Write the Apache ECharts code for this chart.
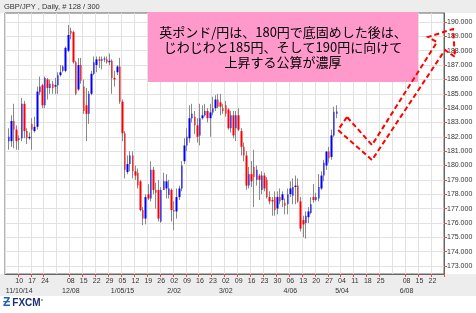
<!DOCTYPE html>
<html><head><meta charset="utf-8">
<script src="https://cdn.jsdelivr.net/npm/echarts@6/dist/echarts.min.js"></script>
<style>html,body{margin:0;padding:0;background:#fff}#c{width:476px;height:313px}</style>
</head><body><div id="c"></div><script>
// weekly (Monday) tick labels, Nov 3 2014 .. Jun 22 2015
const weekDays = ['03','10','17','24','01','08','15','22','29','05','12','19','26','02','09','16','23','02','09','16','23','30','06','13','20','27','04','11','18','25','01','08','15','22'];
const monthLabels = {1:'11/10/14',5:'12/08',9:'1/05/15',13:'2/02',17:'3/02',22:'4/06',26:'5/04',31:'6/08'};
const hiddenWeeks = [0,4,30];
const firstBar = 1;
const opens  = [181.7,181.7,183.1,182.5,181.8,181.9,184.3,182.4,181.9,182.9,182.4,182.7,185.1,185.6,184.2,186.0,185.4,185.7,185.5,185.6,186.3,186.6,186.6,188.0,189.4,189.3,187.2,185.3,187.0,185.5,184.2,183.6,185.0,186.4,187.0,187.4,187.3,187.4,187.4,187.2,187.3,186.1,186.5,186.9,184.45,182.25,179.55,180.1,180.7,179.6,179.5,178.9,176.9,176.3,178.0,177.7,179.7,178.3,178.3,176.1,178.3,178.4,177.95,178.3,176.9,176.8,177.8,178.4,180.3,181.4,181.9,183.3,183.4,182.8,182.1,183.3,183.5,183.8,183.3,183.7,184.0,184.6,184.4,184.0,184.2,183.9,182.6,183.5,182.6,183.5,182.4,181.3,180.7,178.6,179.4,179.9,179.0,179.3,178.3,179.3,179.0,177.8,177.6,177.8,177.0,177.8,177.6,177.4,177.3,178.0,177.9,178.5,178.6,177.5,176.2,176.0,176.4,176.7,177.8,177.6,177.7,178.4,179.3,180.0,180.97,180.6,182.1,183.6];
const closes = [182.0,183.1,182.5,181.7,181.9,184.3,182.4,181.9,182.0,182.5,182.7,185.15,185.5,184.2,186.1,185.4,185.7,185.4,185.6,186.3,186.5,186.9,188.2,189.1,189.2,187.2,185.0,187.0,185.9,183.8,183.6,185.0,186.4,187.2,187.4,187.3,187.4,187.45,187.2,187.3,186.1,186.0,186.9,184.45,182.25,179.7,180.1,180.7,179.6,179.3,178.6,176.9,176.3,177.8,177.7,179.7,178.3,178.1,176.3,178.3,178.9,178.9,178.4,176.9,176.8,177.8,178.4,180.0,181.4,182.0,183.3,183.6,182.8,182.0,183.3,183.5,183.8,183.3,183.7,184.0,184.6,184.1,184.1,183.8,183.6,182.6,183.5,182.1,183.5,182.5,181.3,180.7,178.6,179.4,178.9,179.2,179.7,179.0,179.3,178.4,177.8,177.5,177.5,176.9,177.8,177.5,178.0,177.2,178.0,178.4,178.5,178.6,177.5,175.6,175.9,176.5,176.8,177.3,177.6,177.8,178.5,179.3,180.2,180.97,180.5,182.1,183.75,183.765];
const lows   = [181.1,181.3,181.2,181.1,181.1,181.7,181.9,181.5,181.8,181.1,182.3,182.5,184.9,184.0,184.0,184.6,185.0,185.0,185.0,185.0,186.2,186.5,186.5,187.9,188.8,187.1,184.9,185.2,185.7,183.6,181.7,182.9,184.9,186.3,186.5,186.8,186.7,187.2,187.1,187.0,185.0,185.5,186.3,184.3,181.7,179.1,179.4,179.6,179.1,179.0,178.4,176.8,175.85,175.9,177.6,177.5,178.0,177.0,176.1,176.0,178.3,177.7,177.7,176.1,175.5,176.3,177.6,178.2,180.1,181.0,181.6,183.0,182.2,181.6,181.4,183.2,183.4,183.0,182.0,183.5,183.8,184.0,183.5,183.6,183.4,182.5,182.3,181.9,181.7,182.4,180.7,180.3,178.3,178.4,178.5,177.1,178.6,177.6,178.0,178.2,177.7,177.3,176.5,176.5,176.6,177.3,177.1,176.6,176.6,177.8,177.3,177.3,177.4,175.4,175.0,174.9,176.0,176.6,177.4,177.5,177.5,178.3,178.9,179.7,180.2,180.4,182.0,183.3];
const highs  = [182.6,183.5,184.3,182.8,182.1,184.7,184.5,182.6,182.3,183.3,183.4,185.5,186.2,185.7,186.2,186.1,186.0,185.9,186.1,186.5,187.0,187.0,188.3,189.8,189.6,189.4,187.3,187.5,187.5,186.0,185.4,185.2,186.6,187.6,187.6,187.6,187.6,187.6,187.6,187.8,187.4,186.6,187.0,187.5,184.6,182.4,180.7,181.0,181.0,180.0,179.8,179.0,177.1,178.0,178.7,180.3,179.9,178.8,179.0,178.5,179.5,179.4,179.0,178.4,177.5,178.4,178.6,180.3,181.9,182.6,184.2,184.3,183.8,183.3,184.3,184.2,184.3,184.0,184.3,184.8,184.9,185.0,185.0,184.3,184.5,184.0,183.8,183.8,183.8,184.0,182.6,181.6,181.0,179.9,180.3,181.1,180.0,179.4,179.6,179.5,179.2,178.2,177.8,178.2,178.2,178.4,178.2,177.7,178.4,178.9,179.1,179.3,179.1,177.8,176.5,176.8,177.1,177.8,178.7,178.1,179.4,179.6,180.4,181.0,181.3,182.5,184.1,184.2];
const lastPrice = 183.765;
const priceTicks = [173,174,175,176,177,178,179,180,181,182,183,184,185,186,187,188,189,190];
const titleText = 'GBP/JPY , Daily, # 128 / 300';
const noteLines = ['英ポンド/円は、180円で底固めした後は、','じわじわと185円、そして190円に向けて','上昇する公算が濃厚'];

const nDays = weekDays.length * 5;
const cats = [];
for (let i = 0; i < nDays; i++) cats.push(String(i));
const bodies = [], wicks = [];
for (let k = 0; k < opens.length; k++) {
  const x = cats[firstBar + k];
  const o = opens[k], c = closes[k];
  bodies.push([x, o, c, Math.min(o, c), Math.max(o, c)]);
  wicks.push([x, lows[k], lows[k], lows[k], highs[k]]);
}
const isMonday = i => i % 5 === 0;
const showLabel = i => isMonday(i) && hiddenWeeks.indexOf(i / 5) < 0;
const showMonth = i => isMonday(i) && monthLabels[i / 5] !== undefined;
const lblFont = 'Liberation Sans';

const chart = echarts.init(document.getElementById('c'), null, {renderer: 'canvas', width: 476, height: 313});
chart.setOption({
  animation: false,
  backgroundColor: '#ffffff',
  grid: {left: 5, top: 13, right: 32, bottom: 39, show: true, borderColor: '#666', borderWidth: 1, backgroundColor: '#fff'},
  xAxis: [{
    type: 'category', data: cats, boundaryGap: true,
    axisLine: {show: true, lineStyle: {color: '#666'}},
    axisTick: {show: true, length: 3, interval: (i) => showLabel(i), lineStyle: {color: '#ff4040'}},
    axisLabel: {
      interval: (i) => showLabel(i), fontSize: 7, color: '#333', margin: 4,
      fontFamily: lblFont, showMinLabel: true, showMaxLabel: true,
      formatter: (v, i) => weekDays[i / 5]
    },
    splitLine: {show: true, interval: (i) => isMonday(i), lineStyle: {color: '#e2e2e2'}}
  }, {
    type: 'category', data: cats, boundaryGap: true, position: 'bottom', offset: 10,
    axisLine: {show: false}, axisTick: {show: false}, splitLine: {show: false},
    axisLabel: {
      interval: (i) => showMonth(i), fontSize: 7, color: '#333', margin: 4,
      fontFamily: lblFont, showMinLabel: true, showMaxLabel: true,
      formatter: (v, i) => monthLabels[i / 5]
    }
  }],
  yAxis: {
    type: 'value', position: 'right', min: 172.44, max: 190.63, scale: true,
    axisLine: {show: true, lineStyle: {color: '#666'}},
    axisTick: {show: true, length: 3, customValues: priceTicks, lineStyle: {color: '#ff4040'}},
    axisLabel: {customValues: priceTicks, formatter: v => v.toFixed(3), fontSize: 7, color: '#333', margin: 3, fontFamily: lblFont},
    splitLine: {show: true, lineStyle: {color: '#e2e2e2'}}
  },
  series: [
    {type: 'candlestick', name: 'wick', data: wicks, encode: {x: 0, y: [1, 2, 3, 4]}, barWidth: 1,
     itemStyle: {color: 'transparent', color0: 'transparent', borderColor: '#8a8a8a', borderColor0: '#8a8a8a', borderWidth: 1}},
    {type: 'candlestick', name: 'body', data: bodies, encode: {x: 0, y: [1, 2, 3, 4]}, barWidth: 2,
     itemStyle: {color: '#0000ff', color0: '#ff0000', borderColor: '#0000ff', borderColor0: '#ff0000', borderWidth: 0},
     markLine: {silent: true, symbol: 'none', data: [{yAxis: lastPrice}], lineStyle: {width: 0, opacity: 0},
       label: {show: true, position: 'end', formatter: lastPrice.toFixed(3), color: '#0000ff', backgroundColor: '#fff',
         borderColor: '#ff8080', borderWidth: 1, padding: [1, 1, 0, 1], fontSize: 7, distance: 2, fontFamily: lblFont}}}
  ],
  graphic: [
    {type: 'rect', z: -100, shape: {x: 0, y: 0, width: 476, height: 13}, style: {fill: '#ededed'}},
    {type: 'rect', z: -100, shape: {x: 0, y: 274, width: 476, height: 22}, style: {fill: '#ededed'}},
    {type: 'text', z: 50, left: 4, top: 3, style: {text: titleText, font: '7.5px "Liberation Sans"', fill: '#333'}},
    {type: 'rect', z: 100, shape: {x: 148, y: 12, width: 270, height: 70}, style: {fill: '#ff99cc'}},
    {type: 'text', z: 101, x: 283, y: 25, style: {text: noteLines.join('\n'), align: 'center', verticalAlign: 'top', font: '13px "Noto Sans CJK JP"', lineHeight: 15, fill: '#000'}},
    {type: 'polygon', z: 102, shape: {points: [[347,117],[338,130],[372,160],[445,50],[455,57],[453,29],[428,37],[437,42],[372,145]]},
     style: {fill: null, stroke: '#ff0000', lineWidth: 2, lineDash: [5, 3]}},
    {type: 'text', z: 50, left: 3, top: 297, style: {text: '{i|Ƶ}{t|FXCM}{s|˚}', rich: {
      i: {font: 'bold 12px "Liberation Sans"', fill: '#1f5fbf', padding: [0, 2, 0, 0]},
      t: {font: 'bold 10px "Liberation Sans"', fill: '#1c2f7a'},
      s: {font: '8px "Liberation Sans"', fill: '#1c2f7a'}}}}
  ]
});
</script></body></html>
